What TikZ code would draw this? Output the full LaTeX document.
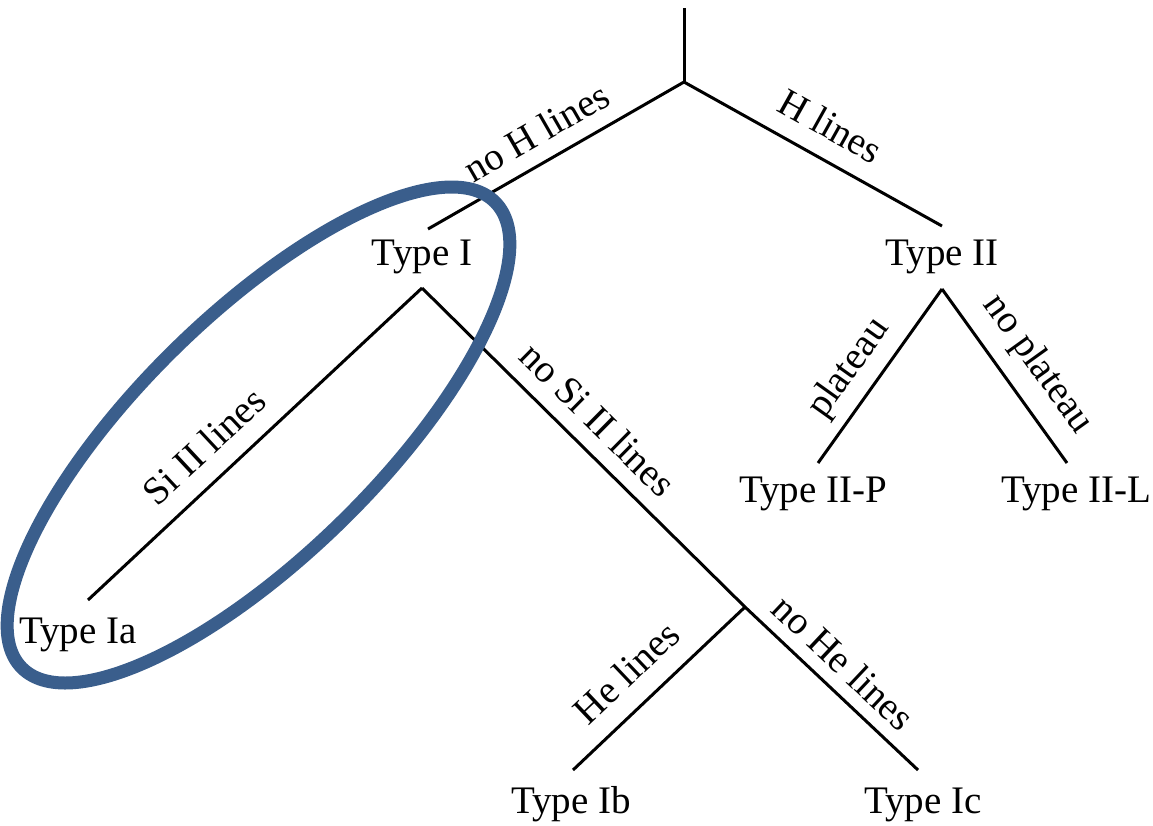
\documentclass[tikz,border=0pt]{standalone}
\usepackage{fontspec}
\setmainfont{Liberation Serif}
\definecolor{ringblue}{RGB}{58,94,140}
\begin{document}
\begin{tikzpicture}[x=0.3pt,y=-0.3pt,
  typenode/.style={font=\fontsize{11.7}{14}\selectfont, inner sep=0pt, anchor=base},
  lbl/.style={font=\fontsize{11.7}{14}\selectfont, inner sep=0pt, sloped, anchor=base},
  link/.style={draw=black, line width=0.9pt},
  ring/.style={draw=ringblue, line width=3.9pt}]
\useasboundingbox (0,0) rectangle (1153,825);
% named points
\coordinate (top) at (684,8);
\coordinate (root) at (684,82);
\coordinate (iT) at (428,229);
\coordinate (iiT) at (942,226);
\coordinate (iA) at (422,288);
\coordinate (iiA) at (942,289);
\coordinate (iaE) at (88,600);
\coordinate (br) at (745,607);
\coordinate (ibE) at (573,770);
\coordinate (icE) at (918,770);
\coordinate (iipE) at (818,463);
\coordinate (iilE) at (1067,463);
% type nodes
\node[typenode] (tI) at (422,265) {Type I};
\node[typenode] (tII) at (942,265) {Type II};
\node[typenode] (tIa) at (78,643) {Type Ia};
\node[typenode] (tIIP) at (813,502) {Type II-P};
\node[typenode] (tIIL) at (1076,502) {Type II-L};
\node[typenode] (tIb) at (571,813) {Type Ib};
\node[typenode] (tIc) at (923,813) {Type Ic};
% connectors
\draw[link] (top) -- (root);
\draw[link] (iT) -- node[lbl, pos=.482, yshift=5.1pt] {no H lines} (root);
\draw[link] (root) -- node[lbl, pos=.506, yshift=6pt] {H lines} (iiT);
\draw[link] (iaE) -- node[lbl, pos=.416, yshift=6pt] {Si II lines} (iA);
\draw[link] (iA) -- node[lbl, pos=.479, yshift=5.1pt] {no Si II lines} (br)
  -- node[lbl, pos=.462, yshift=4.2pt] {no He lines} (icE);
\draw[link] (ibE) -- node[lbl, pos=.447, yshift=6.3pt] {He lines} (br);
\draw[link] (iipE) -- node[lbl, pos=.445, yshift=6pt] {plateau} (iiA);
\draw[link] (iiA) -- node[lbl, pos=.547, yshift=7.2pt] {no plateau} (iilE);
% highlight ring
\draw[ring, rotate around={44.5:(258.5,435)}] (258.5,435) ellipse [x radius=99.6pt, y radius=36pt];
\end{tikzpicture}
\end{document}
